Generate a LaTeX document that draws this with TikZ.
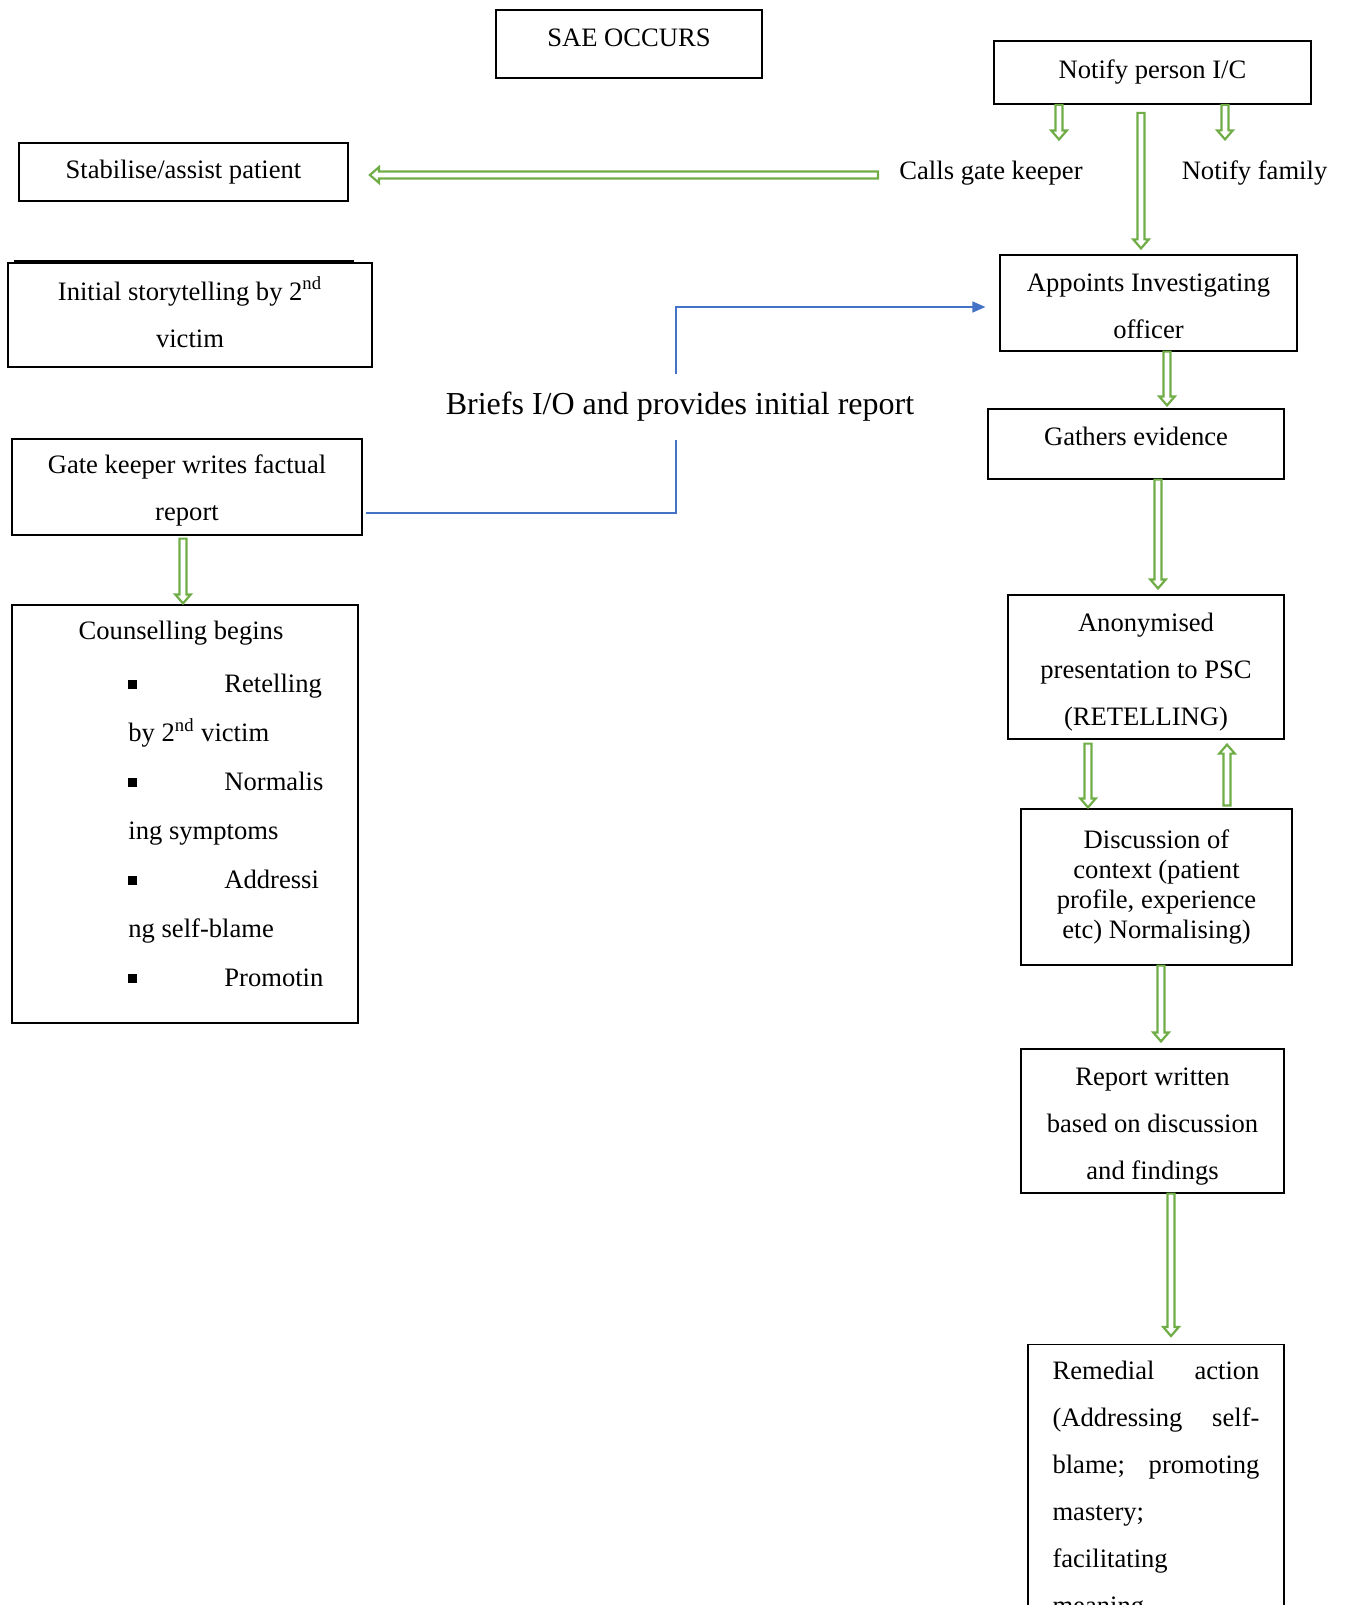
\documentclass[tikz,border=0pt]{standalone}
\usepackage{fontspec}
\setmainfont{Liberation Serif}
\usepackage{tikz}
\usetikzlibrary{arrows.meta}
\usetikzlibrary{calc}
\definecolor{arrowgreen}{RGB}{112,173,71}
\definecolor{linkblue}{RGB}{68,114,196}

\tikzset{
	box/.style={draw, line width=0.6pt, align=center, inner sep=0pt, font=\fontsize{13.3}{23.5}\selectfont},
	thickbox/.style={box, line width=0.9pt},
	plain/.style={align=center, inner sep=0pt, font=\fontsize{13.3}{23.5}\selectfont},
	blockarrow/.style={draw=arrowgreen, line width=1.1pt, to path={
		($(\tikztostart)!1.75pt!90:(\tikztotarget)$)
		-- ($(\tikztotarget)!4.5pt!(\tikztostart)!1.75pt!90:(\tikztotarget)$)
		-- ($(\tikztotarget)!4.5pt!(\tikztostart)!3.9pt!90:(\tikztotarget)$)
		-- (\tikztotarget)
		-- ($(\tikztotarget)!4.5pt!(\tikztostart)!3.9pt!-90:(\tikztotarget)$)
		-- ($(\tikztotarget)!4.5pt!(\tikztostart)!1.75pt!-90:(\tikztotarget)$)
		-- ($(\tikztostart)!1.75pt!-90:(\tikztotarget)$)
		-- cycle}},
	bluearrow/.style={draw=linkblue, line width=0.6pt}
}
\newcommand{\sqbullet}{\rule[2pt]{4.5pt}{4.5pt}}

\begin{document}
\begin{tikzpicture}[x=0.5pt, y=-0.5pt]
	\fill[white] (0,0) rectangle (1345,1605);
	\useasboundingbox (0,0) rectangle (1345,1605);
	% left column
	\node[thickbox, minimum width=133pt, minimum height=34pt, text height=18.4pt, text depth=15.6pt] (sae) at (629,44) {SAE OCCURS};
	\node[thickbox, minimum width=164.5pt, minimum height=29pt] (stab) at (183.5,172) {Stabilise/assist patient};
	\node[box, minimum width=182pt, minimum height=52pt] (init) at (190,315) {Initial storytelling by 2\textsuperscript{nd}\\ victim\rule[-3pt]{0pt}{0pt}};
	\draw[line width=1pt] ($(init.north west)+(7,-1)$) -- ($(init.north east)+(-19,-1)$);
	\node[box, minimum width=175pt, minimum height=48pt] (gate) at (187,487) {\rule{0pt}{13pt}Gate keeper writes factual\\ report};
	\node[box, minimum width=173pt, minimum height=209pt] (couns) at (185,814) {};
	\node[plain] (counstitle) at (181,633) {Counselling begins};
	\node[plain, align=left, anchor=north west, font=\fontsize{13.3}{24.5}\selectfont] (counslist) at (128,674) {\makebox[48pt][l]{\sqbullet}Retelling\\ by 2\textsuperscript{nd} victim\\ \makebox[48pt][l]{\sqbullet}Normalis\\ ing symptoms\\ \makebox[48pt][l]{\sqbullet}Addressi\\ ng self-blame\\ \makebox[48pt][l]{\sqbullet}Promotin};
	% right column
	\node[thickbox, minimum width=158.5pt, minimum height=31.5pt] (notify) at (1152.5,72.5) {Notify person I/C};
	\node[plain, inner xsep=10.5pt] (calls) at (991,173) {Calls gate keeper};
	\node[plain] (family) at (1254.5,173) {Notify family};
	\node[box, minimum width=148.5pt, minimum height=48pt] (appoint) at (1148.5,303) {\rule{0pt}{12.5pt}Appoints Investigating\\ officer};
	\node[box, minimum width=148pt, minimum height=35pt, text height=18pt, text depth=17pt] (gather) at (1136,444) {Gathers evidence};
	\node[box, minimum width=138pt, minimum height=72pt] (anon) at (1146,667) {\rule{0pt}{14pt}Anonymised\\ presentation to PSC\\ (RETELLING)};
	\node[box, minimum width=135.5pt, minimum height=78pt, font=\fontsize{13.3}{15}\selectfont] (disc) at (1156.5,887) {Discussion of\\ context (patient\\ profile, experience\\ etc) Normalising)};
	\node[box, minimum width=131.5pt, minimum height=72pt] (report) at (1152.5,1121) {\rule{0pt}{14pt}Report written\\ based on discussion\\ and findings};
	\node[box, anchor=north, text width=103.5pt, align=justify, inner xsep=12.25pt, inner ysep=8pt] (remed) at (1156,1344) {Remedial action\linebreak (Addressing self-\linebreak blame; promoting\linebreak mastery;\\ facilitating\\ meaning};
	\node[plain, font=\fontsize{16}{19}\selectfont, minimum height=33pt] (briefs) at (680,407) {Briefs I/O and provides initial report};

	% connectors
	\coordinate (callsx) at (1059,0);
	\coordinate (familyx) at (1225,0);
	\coordinate (appointx) at (1141,0);
	\coordinate (gatherx) at (1167,0);
	\coordinate (anonx) at (1158,0);
	\coordinate (downx) at (1088,0);
	\coordinate (upx) at (1227,0);
	\coordinate (reportx) at (1161,0);
	\coordinate (remedx) at (1171,0);
	\coordinate (counsx) at (183,0);
	\coordinate (bendx) at (676,0);
	\coordinate (gateout) at (366,513);
	\draw[blockarrow] (notify.south -| callsx) to ($(calls.north -| callsx)+(0,-21)$);
	\draw[blockarrow] (notify.south -| familyx) to ($(family.north -| familyx)+(0,-21)$);
	\draw[blockarrow] ($(notify.south -| appointx)+(0,8)$) to ($(appoint.north -| appointx)+(0,-6)$);
	\draw[blockarrow] ($(calls.west)+(0,2)$) to ($(calls.west -| stab.east)+(21,2)$);
	\draw[blockarrow] (appoint.south -| gatherx) to ($(gather.north -| gatherx)+(0,-3)$);
	\draw[blockarrow] (gather.south -| anonx) to ($(anon.north -| anonx)+(0,-6)$);
	\draw[blockarrow] ($(anon.south -| downx)+(0,4)$) to ($(disc.north -| downx)+(0,-1)$);
	\draw[blockarrow] ($(disc.north -| upx)+(0,-3)$) to ($(anon.south -| upx)+(0,5)$);
	\draw[blockarrow] (disc.south -| reportx) to ($(report.north -| reportx)+(0,-7)$);
	\draw[blockarrow] (report.south -| remedx) to ($(remed.north -| remedx)+(0,-8)$);
	\draw[blockarrow] ($(gate.south -| counsx)+(0,3)$) to ($(couns.north -| counsx)+(0,-1)$);
	\draw[bluearrow] (gateout) -| (briefs.south -| bendx);
	\draw[bluearrow, -{Triangle[length=6.5pt, width=5.5pt]}] (briefs.north -| bendx) |- ($(appoint.west)+(-14,4)$);
\end{tikzpicture}
\end{document}
